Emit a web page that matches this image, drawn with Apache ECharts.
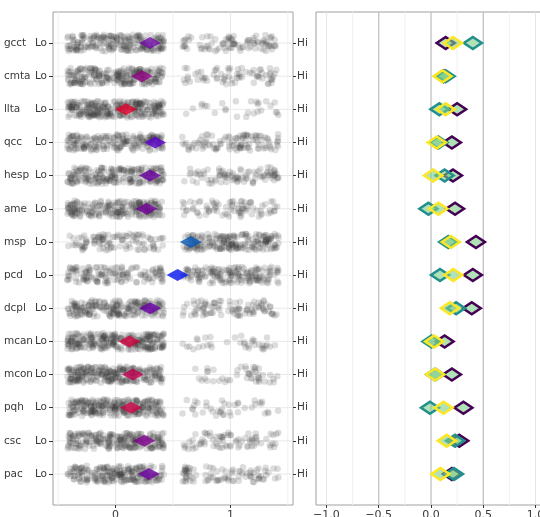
<!DOCTYPE html>
<html>
<head>
<meta charset="utf-8">
<script src="https://cdn.jsdelivr.net/npm/echarts@6/dist/echarts.min.js"></script>
<style>html,body{margin:0;padding:0;background:#fff}#c{width:540px;height:517px}</style>
</head>
<body>
<div id="c"></div>
<script>
// ---- data ----
const rows = ['gcct','cmta','llta','qcc','hesp','ame','msp','pcd','dcpl','mcan','mcon','pqh','csc','pac'];
const nLo  = [210,231,273,196,210,219,103,138,210,264,255,260,225,213];
const nHi  = [ 90, 69, 27,104, 90, 81,197,162, 90, 36, 45, 40, 75, 87];
const meanHi = [0.30,0.23,0.09,0.345,0.30,0.27,0.655,0.54,0.30,0.12,0.15,0.135,0.25,0.29];
const meanColors = ['#6a0aa0','#8c0080','#e0002a','#5a00c8','#6a00a0','#700098','#0052b0','#0414f0','#6a00a8','#d0003c','#c00050','#cc0044','#800090','#6c00a0'];
const purpleVals = [0.14,0.12,0.25,0.20,0.21,0.23,0.43,0.40,0.39,0.13,0.20,0.31,0.27,0.20];
const tealVals   = [0.40,0.14,0.08,0.07,0.13,-0.025,0.165,0.086,0.24,0.005,0.04,-0.01,0.23,0.22];
const yellowVals = [0.21,0.11,0.14,0.055,0.02,0.07,0.19,0.213,0.18,0.03,0.04,0.12,0.15,0.09];
const leftTicks = [0,1];
const rightTicks = [-1,-0.5,0,0.5,1];

// ---- jitter (display only, deterministic) ----
function prng(a){return function(){a|=0;a=a+0x6D2B79F5|0;let t=Math.imul(a^a>>>15,1|a);t=t+Math.imul(t^t>>>7,61|t)^t;return((t^t>>>14)>>>0)/4294967296;};}
const rnd = prng(12345);
const pts = [];
rows.forEach((r,i)=>{
  for(let k=0;k<nLo[i];k++) pts.push([0+(rnd()*2-1)*0.42, i+(rnd()*2-1)*0.25]);
  for(let k=0;k<nHi[i];k++) pts.push([1+(rnd()*2-1)*0.42, i+(rnd()*2-1)*0.25]);
});
const idx = rows.map((_,i)=>i);

const FONT = 'DejaVu Sans';
const txt = '#3a3a3a';
const border = '#a0a0a0';
const yMin = -0.935, yMax = 13.935;
const lxMin = -0.545, lxMax = 1.545, rxMin = -1.1, rxMax = 1.1;

function V(v,c,w){return {seg:[v,yMin,v,yMax],c:c,w:w};}
function H(v,c,w,a,b){return {seg:[a,v,b,v],c:c,w:w};}
const leftLines = [V(-0.5,'#f1f1f1',1),V(0.5,'#f1f1f1',1),V(1.5,'#f1f1f1',1),V(0,'#e6e6e6',1),V(1,'#e6e6e6',1)]
  .concat(idx.map(i=>H(i,'#e8e8e8',1,lxMin,lxMax)));
const rightLines = [V(-0.75,'#f1f1f1',1),V(-0.25,'#f1f1f1',1),V(0.25,'#f1f1f1',1),V(0.75,'#f1f1f1',1),
  V(-1,'#e6e6e6',1),V(1,'#e6e6e6',1),V(-0.5,'#c6c6c6',1.4),V(0,'#c6c6c6',1.4),V(0.5,'#c6c6c6',1.4)];

function gridSeries(specs,xi,yi){
  return {type:'custom',xAxisIndex:xi,yAxisIndex:yi,silent:true,z:0,clip:true,
    encode:{x:[0,2],y:[1,3]},
    data:specs.map(s=>s.seg),
    renderItem:function(params,api){
      const s = specs[params.dataIndex];
      const p1 = api.coord([api.value(0),api.value(1)]);
      const p2 = api.coord([api.value(2),api.value(3)]);
      return {type:'line',shape:{x1:p1[0],y1:p1[1],x2:p2[0],y2:p2[1]},style:{stroke:s.c,lineWidth:s.w,fill:null}};
    }};
}

const diamondFill = 'rgba(125,205,135,0.6)';
function diaSeries(name,vals,color){
  return {
    name:name, type:'scatter', xAxisIndex:1, yAxisIndex:2, z:5,
    symbol:'diamond', symbolSize:[18,12],
    itemStyle:{color:diamondFill, borderColor:color, borderWidth:2.6, opacity:1},
    data: vals.map((v,i)=>[v,i])
  };
}
const noLine = {show:false,onZero:false};

const chart = echarts.init(document.getElementById('c'),null,{renderer:'canvas'});
chart.setOption({
  animation:false,
  textStyle:{fontFamily:FONT},
  grid:[
    {left:53,right:247,top:12,bottom:12,show:true,borderColor:border,borderWidth:1,backgroundColor:'#fff',outerBoundsMode:'none',containLabel:false},
    {left:316,right:-6,top:12,bottom:12,show:true,borderColor:border,borderWidth:1,backgroundColor:'#fff',outerBoundsMode:'none',containLabel:false}
  ],
  xAxis:[
    {type:'value',gridIndex:0,min:lxMin,max:lxMax,position:'bottom',
     axisLine:noLine,splitLine:{show:false},
     axisTick:{show:true,length:3,customValues:leftTicks,lineStyle:{color:'#333'}},
     axisLabel:{show:true,customValues:leftTicks,margin:5,fontSize:11,color:txt,fontFamily:FONT,formatter:v=>String(v)}},
    {type:'value',gridIndex:1,min:rxMin,max:rxMax,position:'bottom',
     axisLine:noLine,splitLine:{show:false},
     axisTick:{show:true,length:3,customValues:rightTicks,lineStyle:{color:'#333'}},
     axisLabel:{show:true,customValues:rightTicks,margin:5,fontSize:11,color:txt,fontFamily:FONT,
       formatter:v=>(v<0?'\u2212':'')+Math.abs(v).toFixed(1)}}
  ],
  yAxis:[
    {type:'value',gridIndex:0,inverse:true,min:yMin,max:yMax,position:'left',
     axisLine:noLine,splitLine:{show:false},
     axisTick:{show:true,length:4,customValues:idx,lineStyle:{color:'#333'}},
     axisLabel:{show:true,customValues:idx,margin:6,fontSize:10.5,color:txt,fontFamily:FONT,
       formatter:v=>'{a|'+rows[Math.round(v)]+'}{b|Lo}',
       rich:{a:{width:31,align:'left',fontSize:10.5,color:txt,fontFamily:FONT},b:{fontSize:10.5,color:txt,fontFamily:FONT}}}},
    {type:'value',gridIndex:0,inverse:true,min:yMin,max:yMax,position:'right',
     axisLine:noLine,splitLine:{show:false},
     axisTick:{show:true,length:3,customValues:idx,lineStyle:{color:'#333'}},
     axisLabel:{show:true,customValues:idx,margin:4,fontSize:10.5,color:txt,fontFamily:FONT,formatter:()=>'Hi'}},
    {type:'value',gridIndex:1,inverse:true,min:yMin,max:yMax,
     axisLine:noLine,splitLine:{show:false},axisTick:{show:false},axisLabel:{show:false}}
  ],
  series:[
    gridSeries(leftLines,0,0),
    {type:'scatter',xAxisIndex:0,yAxisIndex:0,z:2,symbolSize:6.5,silent:true,large:false,progressive:0,
     itemStyle:{color:'rgba(55,55,55,0.21)'},data:pts},
    {type:'scatter',xAxisIndex:0,yAxisIndex:0,z:3,symbol:'diamond',symbolSize:[22,12],
     data:meanHi.map((v,i)=>({value:[v,i],itemStyle:{color:meanColors[i]}}))},
    gridSeries(rightLines,1,2),
    diaSeries('p',purpleVals,'#440154'),
    diaSeries('t',tealVals,'#21908c'),
    diaSeries('y',yellowVals,'#fde725')
  ]
});
</script>
</body>
</html>
